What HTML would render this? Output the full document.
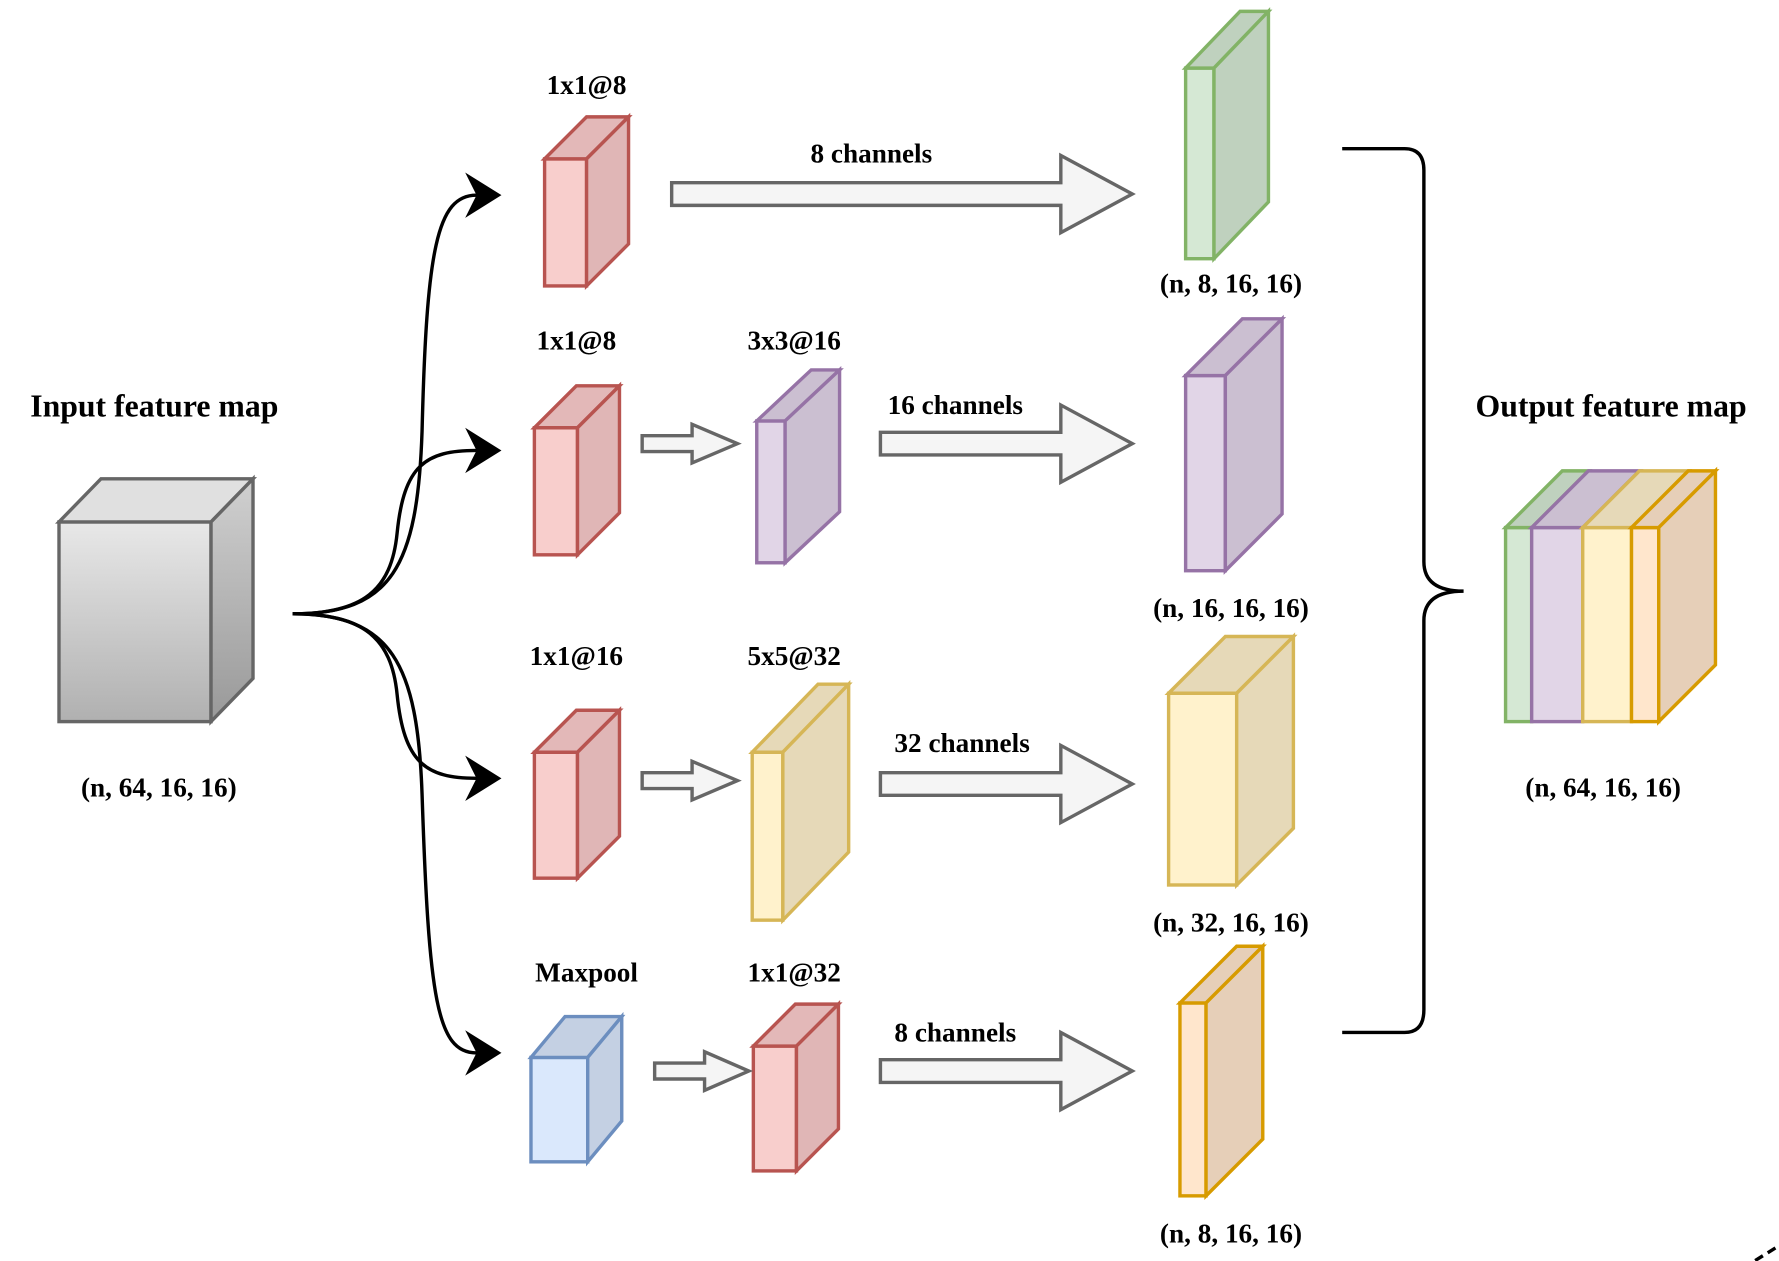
<!DOCTYPE html>
<html><head><meta charset="utf-8"><style>
html,body{margin:0;padding:0;background:#fff}
svg{display:block}
text{font-family:"Liberation Serif",serif;font-weight:bold;fill:#000}
</style></head><body>
<svg width="1779" height="1261" viewBox="0 0 1568 1111.4" xmlns="http://www.w3.org/2000/svg">
<defs>
<linearGradient id="gf" x1="0" y1="0" x2="0" y2="1"><stop offset="0" stop-color="#e8e8e8"/><stop offset="1" stop-color="#b0b0b0"/></linearGradient>
<linearGradient id="gs" x1="0" y1="0" x2="0" y2="1"><stop offset="0" stop-color="#d0d0d0"/><stop offset="1" stop-color="#999"/></linearGradient>
</defs>
<g stroke-width="3" stroke-linejoin="miter">
<g stroke="#666"><rect x="52" y="460" width="134" height="176" fill="url(#gf)"/><polygon points="52,460 89,422 223,422 186,460" fill="#e0e0e0"/><polygon points="186,460 223,422 223,598 186,636" fill="url(#gs)"/></g>
<g stroke="#b85450">
<rect x="480" y="140" width="37" height="112" fill="#f8cecc"/><polygon points="480,140 517,103 554,103 517,140" fill="#e3b8b8"/><polygon points="517,140 554,103 554,215 517,252" fill="#e0b6b6"/>
<rect x="471" y="377" width="38" height="112" fill="#f8cecc"/><polygon points="471,377 508,340 546,340 509,377" fill="#e3b8b8"/><polygon points="509,377 546,340 546,452 509,489" fill="#e0b6b6"/>
<rect x="471" y="663" width="38" height="111" fill="#f8cecc"/><polygon points="471,663 508,626 546,626 509,663" fill="#e3b8b8"/><polygon points="509,663 546,626 546,737 509,774" fill="#e0b6b6"/>
<rect x="664" y="922" width="38" height="110" fill="#f8cecc"/><polygon points="664,922 701,885 739,885 702,922" fill="#e3b8b8"/><polygon points="702,922 739,885 739,995 702,1032" fill="#e0b6b6"/>
</g>
<g stroke="#9673a6">
<rect x="667" y="371" width="25" height="125" fill="#e1d5e7"/><polygon points="667,371 715,326 740,326 692,371" fill="#cbbfd1"/><polygon points="692,371 740,326 740,451 692,496" fill="#cbbfd1"/>
<rect x="1045" y="331" width="35" height="172" fill="#e1d5e7"/><polygon points="1045,331 1095,281 1130,281 1080,331" fill="#cbbfd1"/><polygon points="1080,331 1130,281 1130,453 1080,503" fill="#cbbfd1"/>
</g>
<g stroke="#d6b656">
<rect x="663" y="663" width="27" height="148" fill="#fff2cc"/><polygon points="663,663 721,603 748,603 690,663" fill="#e6d9b8"/><polygon points="690,663 748,603 748,751 690,811" fill="#e6d9b8"/>
<rect x="1030" y="611" width="60" height="169" fill="#fff2cc"/><polygon points="1030,611 1080,561 1140,561 1090,611" fill="#e6d9b8"/><polygon points="1090,611 1140,561 1140,730 1090,780" fill="#e6d9b8"/>
</g>
<g stroke="#6c8ebf"><rect x="468" y="932" width="50" height="92" fill="#dae8fc"/><polygon points="468,932 498,896 548,896 518,932" fill="#c4d0e3"/><polygon points="518,932 548,896 548,988 518,1024" fill="#c4d0e3"/></g>
<g stroke="#82b366"><rect x="1045" y="60" width="25" height="168" fill="#d5e8d4"/><polygon points="1045,60 1093,10 1118,10 1070,60" fill="#bfd1be"/><polygon points="1070,60 1118,10 1118,178 1070,228" fill="#bfd1be"/></g>
<g stroke="#d79b00"><rect x="1040" y="884" width="23" height="170" fill="#ffe6cc"/><polygon points="1040,884 1090,834 1113,834 1063,884" fill="#e6cfb8"/><polygon points="1063,884 1113,834 1113,1004 1063,1054" fill="#e6cfb8"/></g>
<g stroke="#82b366"><rect x="1327" y="465" width="23" height="171" fill="#d5e8d4"/><polygon points="1327,465 1377,415 1400,415 1350,465" fill="#bfd1be"/></g>
<g stroke="#9673a6"><rect x="1350" y="465" width="45" height="171" fill="#e1d5e7"/><polygon points="1350,465 1400,415 1445,415 1395,465" fill="#cbbfd1"/></g>
<g stroke="#d6b656"><rect x="1395" y="465" width="43" height="171" fill="#fff2cc"/><polygon points="1395,465 1445,415 1488,415 1438,465" fill="#e6d9b8"/></g>
<g stroke="#d79b00"><rect x="1438" y="465" width="24" height="171" fill="#ffe6cc"/><polygon points="1438,465 1488,415 1512,415 1462,465" fill="#e6cfb8"/><polygon points="1462,465 1512,415 1512,586 1462,636" fill="#e6cfb8"/></g>
<g stroke="#666" fill="#f5f5f5">
<polygon points="592,161 935,161 935,137 998,171 935,205 935,181 592,181"/>
<polygon points="776,381 935,381 935,357 998,391 935,425 935,401 776,401"/>
<polygon points="776,681 935,681 935,657 998,691 935,725 935,701 776,701"/>
<polygon points="776,934 935,934 935,910 998,944 935,978 935,954 776,954"/>
<polygon points="566,384 610,384 610,374 650,391 610,408 610,398 566,398"/>
<polygon points="566,681 610,681 610,671 650,688 610,705 610,695 566,695"/>
<polygon points="577,937 621,937 621,927 660,944 621,961 621,951 577,951"/>
</g>
</g>
<g stroke="#000" stroke-width="3" fill="none">
<path d="M258,541 C345,541 368,500 372,380 C376,220 385,172 420,172"/>
<path d="M258,541 C320,541 345,520 350,470 C356,410 375,397 420,397"/>
<path d="M258,541 C320,541 345,562 350,612 C356,672 375,686 420,686"/>
<path d="M258,541 C345,541 368,585 372,700 C378,880 385,928 420,928"/>
<path d="M1183,131 H1238 Q1255,131 1255,150 V495 Q1255,521 1290,521 Q1255,521 1255,547 V890 Q1255,910 1238,910 H1183"/>
</g>
<g fill="#000">
<polygon points="442,172 410,152 420,172 410,192"/>
<polygon points="442,397 410,377 420,397 410,417"/>
<polygon points="442,686 410,666 420,686 410,706"/>
<polygon points="442,928 410,908 420,928 410,948"/>
</g>
<path d="M1547,1111 L1568,1098" stroke="#000" stroke-width="3" stroke-dasharray="8,5"/>
<g font-size="24" text-anchor="middle">
<text x="136" y="367" font-size="28">Input feature map</text>
<text x="140" y="702">(n, 64, 16, 16)</text>
<text x="517" y="83">1x1@8</text>
<text x="508" y="308">1x1@8</text>
<text x="700" y="308">3x3@16</text>
<text x="508" y="586">1x1@16</text>
<text x="700" y="586">5x5@32</text>
<text x="517" y="865">Maxpool</text>
<text x="700" y="865">1x1@32</text>
<text x="768" y="143">8 channels</text>
<text x="842" y="365">16 channels</text>
<text x="848" y="663">32 channels</text>
<text x="842" y="918">8 channels</text>
<text x="1085" y="258">(n, 8, 16, 16)</text>
<text x="1085" y="544">(n, 16, 16, 16)</text>
<text x="1085" y="821">(n, 32, 16, 16)</text>
<text x="1085" y="1095">(n, 8, 16, 16)</text>
<text x="1420" y="367" font-size="28">Output feature map</text>
<text x="1413" y="702">(n, 64, 16, 16)</text>
</g>
</svg>
</body></html>
